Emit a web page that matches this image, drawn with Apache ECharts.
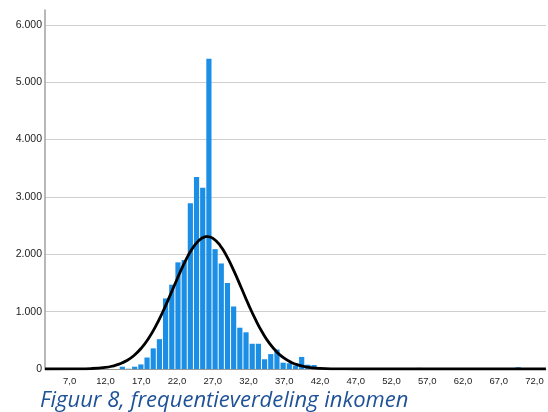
<!DOCTYPE html>
<html>
<head>
<meta charset="utf-8">
<script src="https://cdn.jsdelivr.net/npm/echarts@6/dist/echarts.min.js"></script>
<style>
  html, body { margin: 0; padding: 0; background: #ffffff; }
  #chart { width: 548px; height: 412px; }
</style>
</head>
<body>
<div id="chart"></div>
<script>
// Histogram of income (x 1.000), 81 equal-width bins
const binStart = 3.55;
const binWidth = 0.865;
const binCounts = [
  0, 0, 0, 0, 0, 0, 0, 0, 0, 0,
  0, 0, 40, 5, 40, 80, 200, 360, 520, 1230,
  1470, 1860, 1900, 2890, 3350, 3160, 5410, 2090, 1840, 1500,
  1090, 720, 640, 440, 440, 170, 260, 340, 110, 100,
  60, 210, 75, 70, 20, 5, 10, 0, 3, 0,
  10, 0, 0, 3, 0, 0, 0, 10, 0, 0,
  20, 0, 0, 0, 0, 5, 0, 10, 0, 0,
  0, 0, 0, 0, 0, 0, 30, 0, 0, 0,
  0
];

// Fitted normal curve, sampled along the income axis
const curveX = [3.55, 8, 10, 12, 13, 14, 15, 16, 17, 18, 19, 20, 21, 22, 23, 24, 25, 26, 26.25,
  27, 28, 29, 30, 31, 32, 33, 34, 35, 36, 37, 38, 39, 40, 42, 44, 47, 52, 73.6];
const curveY = [0, 2, 8, 28, 51, 89, 148, 236, 361, 527, 738, 990, 1270, 1561, 1837, 2070, 2233, 2307, 2310,
  2282, 2161, 1960, 1702, 1416, 1127, 859, 627, 438, 294, 188, 115, 68, 38, 11, 2.5, 0.2, 0, 0];

// Axis ticks
const xTickValues = [7, 12, 17, 22, 27, 32, 37, 42, 47, 52, 57, 62, 67, 72];
const yTickStep = 1000;

const captionText = 'Figuur 8, frequentieverdeling inkomen';

const barData = binCounts.map((c, i) => [binStart + i * binWidth, binStart + (i + 1) * binWidth, c]);
const curveData = curveX.map((x, i) => [x, curveY[i]]);

const nl = v => v.toFixed(1).replace('.', ',');
const thousands = v => String(Math.round(v)).replace(/\B(?=(\d{3})+(?!\d))/g, '.');

const chart = echarts.init(document.getElementById('chart'), null, { renderer: 'canvas' });
chart.setOption({
  animation: false,
  backgroundColor: '#ffffff',
  grid: { left: 45, right: 2, top: 10, bottom: 43, containLabel: false },
  xAxis: {
    type: 'value',
    min: binStart,
    max: binStart + binCounts.length * binWidth,
    axisLine: { show: true, lineStyle: { color: '#999999', width: 1 } },
    axisTick: { show: false },
    splitLine: { show: false },
    axisLabel: {
      customValues: xTickValues,
      formatter: v => nl(v),
      color: '#222222',
      fontFamily: 'Liberation Sans',
      fontSize: 9.5,
      margin: 7
    }
  },
  yAxis: {
    type: 'value',
    min: 0,
    max: 6260,
    interval: yTickStep,
    axisLine: { show: true, lineStyle: { color: '#a0a0a0', width: 1.5 } },
    axisTick: { show: false },
    splitLine: { show: true, showMaxLine: false, lineStyle: { color: '#cfcfcf', width: 1.2 } },
    axisLabel: {
      showMaxLabel: false,
      formatter: v => thousands(v),
      color: '#222222',
      fontFamily: 'Liberation Sans',
      fontSize: 10.5,
      margin: 3
    }
  },
  series: [
    {
      type: 'custom',
      data: barData,
      encode: { x: [0, 1], y: 2 },
      renderItem: (params, api) => {
        const c = api.value(2);
        if (!c) return null;
        const p0 = api.coord([api.value(0), c]);
        const p1 = api.coord([api.value(1), 0]);
        return {
          type: 'rect',
          shape: { x: p0[0] + 0.5, y: p0[1], width: p1[0] - p0[0] - 1, height: p1[1] - p0[1] },
          style: { fill: '#1b8ee6' }
        };
      },
      z: 2
    },
    {
      type: 'line',
      data: curveData,
      smooth: true,
      symbol: 'none',
      lineStyle: { color: '#000000', width: 2.8 },
      z: 5
    }
  ],
  graphic: [
    {
      type: 'text',
      left: 40,
      top: 390,
      style: {
        text: captionText,
        font: 'italic 22px "Open Sans"',
        fill: '#1f5296'
      }
    }
  ]
});
</script>
</body>
</html>
